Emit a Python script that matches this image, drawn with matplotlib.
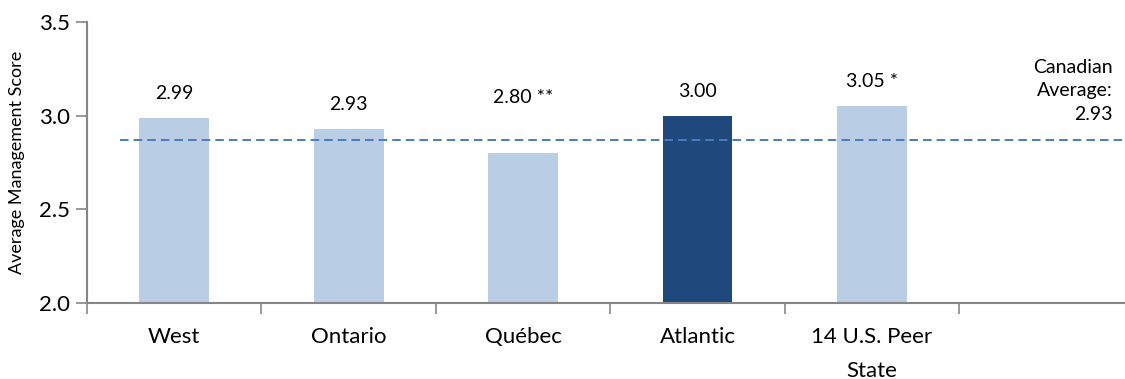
import matplotlib
matplotlib.use("Agg")
import matplotlib.pyplot as plt

categories = ["West", "Ontario", "Québec", "Atlantic", "14 U.S. Peer\nState"]
values = [2.99, 2.93, 2.80, 3.00, 3.05]
value_labels = ["2.99", "2.93", "2.80 **", "3.00", "3.05 *"]
highlight = "Atlantic"
canadian_avg_line = 2.87
canadian_avg_label = "Canadian\nAverage:\n2.93"

plt.rcParams['font.family'] = ['Lato', 'DejaVu Sans']

fig = plt.figure(figsize=(11.25, 3.79), dpi=100)
ax = fig.add_axes([87/1125, 1 - 303/379, 1 - 87/1125, (303 - 22)/379])

light = "#b9cde5"
dark = "#1f497d"
colors = [dark if c == highlight else light for c in categories]
x = list(range(len(categories)))
ax.bar(x, [v - 2.0 for v in values], bottom=2.0, width=0.4, color=colors, zorder=2)

label_offsets = [0.13, 0.13, 0.295, 0.13, 0.13]
for xi, v, lab, off in zip(x, values, value_labels, label_offsets):
    ax.text(xi, v + off, lab, ha='center', va='center', fontsize=14, color='black')

ax.set_xlim(-0.5, 5.45)
ax.set_ylim(2.0, 3.5)
ax.axhline(canadian_avg_line, xmin=(-0.31 + 0.5) / 5.95, xmax=1.0, color="#4a7cc4",
           linestyle=(0, (4.4, 2.6)), linewidth=1.4, zorder=3)
ax.text(5.377, 2.962, canadian_avg_label, ha='right', va='bottom', fontsize=14,
        multialignment='right', linespacing=1.45)

ax.set_yticks([2.0, 2.5, 3.0, 3.5])
ax.set_yticklabels(["2.0", "2.5", "3.0", "3.5"], fontsize=16)
ax.set_xticks(x)
ax.set_xticklabels(categories, fontsize=16, linespacing=1.9)
ax.set_xticks([i - 0.5 for i in range(6)], minor=True)
ax.tick_params(axis='x', which='major', length=0, pad=17)
ax.tick_params(axis='x', which='minor', length=8, color='#868686', width=1.2)
ax.tick_params(axis='y', length=8, color='#868686', width=1.2, pad=4)

for s in ['top', 'right']:
    ax.spines[s].set_visible(False)
for s in ['left', 'bottom']:
    ax.spines[s].set_color('#868686')
    ax.spines[s].set_linewidth(1.5)

ax.set_ylabel("Average Management Score", fontsize=13, labelpad=10)

fig.savefig("out.png", dpi=100)
